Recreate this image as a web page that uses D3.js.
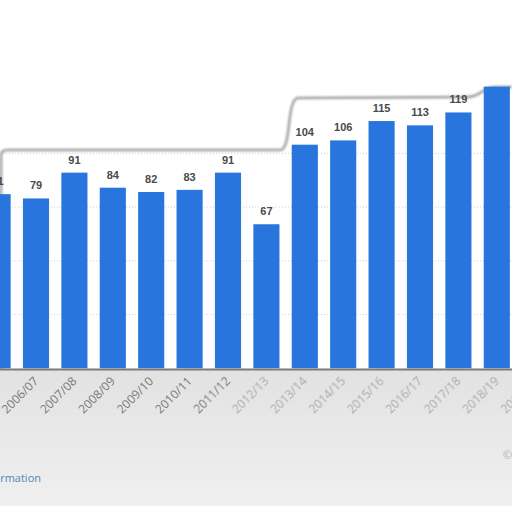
<!DOCTYPE html>
<html>
<head>
<meta charset="utf-8">
<script src="https://cdn.jsdelivr.net/npm/d3@7"></script>
<style>
  body { margin: 0; background: #fff; }
  svg { display: block; }
</style>
</head>
<body>
<svg width="512" height="512"></svg>
<script>
// season labels and values
var seasons = ['2005/06', '2006/07', '2007/08', '2008/09', '2009/10', '2010/11', '2011/12',
    '2012/13', '2013/14', '2014/15', '2015/16', '2016/17', '2017/18', '2018/19', '2019/20'];
var values = [81, 79, 91, 84, 82, 83, 91, 67, 104, 106, 115, 113, 119, 131, 134];
var gridTicks = [25, 50, 75, 100];
// the crop hides the value labels of the last two bars
var labelledCount = 13;

var svg = d3.select('svg');
var defs = svg.append('defs');

defs.append('filter').attr('id', 'soft')
    .append('feGaussianBlur').attr('stdDeviation', 1.2);
defs.append('filter').attr('id', 'blurText')
    .append('feGaussianBlur').attr('stdDeviation', 0.7);

var grad = defs.append('linearGradient').attr('id', 'floor')
    .attr('x1', 0).attr('y1', 0).attr('x2', 0).attr('y2', 1);
grad.append('stop').attr('offset', '0%').attr('stop-color', '#e2e2e2');
grad.append('stop').attr('offset', '60%').attr('stop-color', '#eaeaea');
grad.append('stop').attr('offset', '100%').attr('stop-color', '#f0f0f0');

var xScale = d3.scaleBand()
    .domain(seasons)
    .range([-21.6, 554.4])
    .paddingInner(0.32)
    .paddingOuter(0.16);

var yScale = d3.scaleLinear()
    .domain([0, 125])
    .range([368.3, 99.55]);

// card frame (the photo is warped, so the top edge steps up)
svg.append('path')
    .attr('d', 'M1,372 L1,156 Q1,150 7,150 L280,150 C292,150 286,99 298,98 L468,97 C480,97 482,88 494,87 L512,87')
    .attr('fill', 'none')
    .attr('stroke', '#a0a0a0')
    .attr('stroke-width', 2.5)
    .attr('filter', 'url(#soft)');

// grid
svg.append('g')
    .selectAll('line')
    .data(gridTicks)
    .enter()
    .append('line')
    .attr('x1', 0)
    .attr('x2', 512)
    .attr('y1', function(d){ return yScale(d); })
    .attr('y2', function(d){ return yScale(d); })
    .attr('stroke', '#cfcfcf')
    .attr('stroke-width', 1)
    .attr('stroke-dasharray', '1,2');

// floor under the axis
svg.append('rect')
    .attr('x', 0).attr('y', 369)
    .attr('width', 512).attr('height', 137)
    .attr('fill', 'url(#floor)');
svg.append('line')
    .attr('x1', 0).attr('x2', 512)
    .attr('y1', 505).attr('y2', 505)
    .attr('stroke', '#c8c8c8')
    .attr('stroke-width', 2)
    .attr('filter', 'url(#soft)');

// bars
svg.append('g')
    .selectAll('rect')
    .data(values)
    .enter()
    .append('rect')
    .attr('x', function(d, i){ return xScale(seasons[i]); })
    .attr('y', function(d){ return yScale(d); })
    .attr('width', xScale.bandwidth())
    .attr('height', function(d){ return yScale(0) - yScale(d); })
    .attr('fill', '#2876dd');

// axis line
svg.append('line')
    .attr('x1', 0).attr('x2', 512)
    .attr('y1', 369.5).attr('y2', 369.5)
    .attr('stroke', '#7a7a7a')
    .attr('stroke-width', 2);

// value labels
svg.append('g')
    .selectAll('text')
    .data(values.slice(0, labelledCount))
    .enter()
    .append('text')
    .attr('x', function(d, i){ return xScale(seasons[i]) + xScale.bandwidth() / 2; })
    .attr('y', function(d){ return yScale(d) - 9; })
    .attr('text-anchor', 'middle')
    .attr('font-family', 'Liberation Sans, Arial, sans-serif')
    .attr('font-weight', 'bold')
    .attr('font-size', '11px')
    .attr('fill', '#4a4a4a')
    .text(function(d){ return d; });

// season tick labels, rotated
svg.append('g')
    .selectAll('text')
    .data(seasons)
    .enter()
    .append('text')
    .attr('transform', function(d){
        var cx = xScale(d) + xScale.bandwidth() / 2 + 3;
        return 'translate(' + cx + ',382) rotate(-45)';
    })
    .attr('text-anchor', 'end')
    .attr('font-family', 'Open Sans, Liberation Sans, sans-serif')
    .attr('font-size', '12px')
    .attr('fill', function(d, i){ return i < 7 ? '#7a7a7a' : '#ababab'; })
    .attr('filter', function(d, i){ return i < 6 ? null : 'url(#blurText)'; })
    .text(function(d){ return d; });

// footer bits cut by the crop
svg.append('text')
    .attr('x', 41).attr('y', 482)
    .attr('text-anchor', 'end')
    .attr('font-family', 'Open Sans, Liberation Sans, sans-serif')
    .attr('font-size', '11px')
    .attr('fill', '#4f86b5')
    .text('Additional Information');

svg.append('text')
    .attr('x', 503).attr('y', 459)
    .attr('font-family', 'Open Sans, Liberation Sans, sans-serif')
    .attr('font-size', '11px')
    .attr('fill', '#b0b0b0')
    .attr('filter', 'url(#blurText)')
    .text('© Statista 2021');
</script>
</body>
</html>
